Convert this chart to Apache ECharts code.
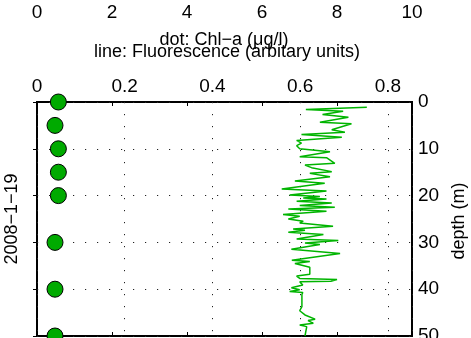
<!DOCTYPE html>
<html>
<head>
<meta charset="utf-8">
<script src="https://cdn.jsdelivr.net/npm/echarts@6/dist/echarts.min.js"></script>
<style>
html,body{margin:0;padding:0;background:#fff;}
#chart{width:471px;height:338px;}
</style>
</head>
<body>
<div id="chart"></div>
<script>
// ---- data ----
const chlDepth = [0, 5, 10, 15, 20, 30, 40, 50];
const chlValue = [0.57, 0.48, 0.57, 0.57, 0.57, 0.48, 0.48, 0.48];

const fluorDepth = [1.11,1.60,1.96,2.67,3.24,4.31,4.65,5.93,6.44,6.93,7.51,8.21,8.78,9.34,9.98,
  10.28,10.62,11.68,11.90,13.11,13.48,14.03,14.88,15.25,15.95,16.89,17.38,18.59,19.02,19.87,
  20.21,20.51,20.72,21.22,21.58,22.13,22.49,22.86,23.35,24.05,24.41,24.99,25.48,25.84,26.55,
  27.12,27.40,27.83,28.32,29.25,29.59,30.11,30.45,31.45,32.37,33.8,34.1,34.5,35.3,36.8,37.2,
  37.7,37.95,38.3,38.4,39.1,39.7,40.1,40.5,40.7,41.15,43.75,44.6,45.5,46.4,46.7,47.3,47.65,
  48.0,48.4,50.0];
const fluorValue = [0.752,0.613,0.698,0.651,0.710,0.645,0.717,0.672,0.702,0.603,0.695,0.592,0.603,0.592,0.599,
  0.595,0.668,0.599,0.660,0.679,0.611,0.626,0.672,0.622,0.668,0.588,0.656,0.558,0.660,0.576,
  0.645,0.607,0.660,0.592,0.672,0.599,0.679,0.573,0.660,0.561,0.599,0.573,0.607,0.599,0.675,
  0.584,0.611,0.573,0.653,0.592,0.687,0.611,0.645,0.580,0.691,0.581,0.622,0.588,0.622,0.622,0.592,
  0.599,0.684,0.670,0.599,0.606,0.580,0.599,0.576,0.606,0.604,0.604,0.599,0.611,0.634,0.618,0.630,0.599,
  0.615,0.611,0.611];

const chlTicks = [0, 2, 4, 6, 8, 10];
const fluorTicks = [0, 0.2, 0.4, 0.6, 0.8];
const depthTicks = [0, 10, 20, 30, 40, 50];

const titleChl = 'dot: Chl\u2212a (\u03bcg/l)';
const titleFluor = 'line: Fluorescence (arbitary units)';
const dateLabel = '2008\u22121\u221219';
const depthName = 'depth (m)';

// ---- chart ----
const FONT = '"Liberation Sans", Arial, Helvetica, sans-serif';
const dotted = { color: '#222', width: 1, type: [1.2, 10.8] };
const chart = echarts.init(document.getElementById('chart'), null, { renderer: 'canvas' });

const option = {
  animation: false,
  backgroundColor: '#fff',
  grid: { left: 37, right: 59, top: 102, bottom: 2, show: true, borderColor: '#000', borderWidth: 2,
    backgroundColor: 'transparent', containLabel: false, outerBoundsMode: 'none' },
  xAxis: [
    { // fluorescence, top
      type: 'value', position: 'top', min: 0, max: 0.855, interval: 0.2,
      axisLine: { show: false }, axisTick: { show: false },
      axisLabel: { show: true, margin: 6, fontSize: 19, color: '#000', fontFamily: FONT, showMaxLabel: false,
        formatter: v => fluorTicks.some(t => Math.abs(t - v) < 1e-6) ? String(+v.toFixed(1)) : '' },
      splitLine: { show: true, lineStyle: dotted }
    },
    { // Chl-a, offset labels on top
      type: 'value', position: 'top', offset: 74, min: 0, max: 10, interval: 2,
      axisLine: { show: false }, axisTick: { show: false },
      axisLabel: { show: true, margin: 6, fontSize: 19, color: '#000', fontFamily: FONT,
        formatter: v => chlTicks.includes(v) ? String(v) : '' },
      splitLine: { show: false }
    },
    { // Chl-a ticks at bottom of box
      type: 'value', position: 'bottom', min: 0, max: 10, interval: 2,
      axisLine: { show: false }, axisLabel: { show: false },
      axisTick: { show: true, inside: true, length: 4, lineStyle: { color: '#000', width: 1 } },
      splitLine: { show: false }
    },
    { // Chl-a ticks at top of box
      type: 'value', position: 'top', offset: 0, min: 0, max: 10, interval: 2,
      axisLine: { show: false }, axisLabel: { show: false },
      axisTick: { show: true, inside: true, length: 4, lineStyle: { color: '#000', width: 1 } },
      splitLine: { show: false }
    }
  ],
  yAxis: [
    {
      type: 'value', position: 'right', inverse: true, min: 0, max: 50, interval: 10,
      axisLine: { show: false },
      axisTick: { show: true, inside: true, length: 4, lineStyle: { color: '#000', width: 1 } },
      axisLabel: { show: true, margin: 6, fontSize: 19, color: '#000', fontFamily: FONT,
        formatter: v => depthTicks.includes(v) ? String(v) : '' },
      splitLine: { show: true, lineStyle: dotted }
    }
  ],
  graphic: [
    { type: 'text', x: 224, y: 40, style: { text: titleChl, fill: '#000', font: '18px ' + FONT, textAlign: 'center', textVerticalAlign: 'middle' } },
    { type: 'text', x: 227, y: 52, style: { text: titleFluor, fill: '#000', font: '18px ' + FONT, textAlign: 'center', textVerticalAlign: 'middle' } },
    { type: 'text', x: 12, y: 219, rotation: Math.PI / 2, style: { text: dateLabel, fill: '#000', font: '18px ' + FONT, textAlign: 'center', textVerticalAlign: 'middle' } },
    { type: 'text', x: 459, y: 221, rotation: Math.PI / 2, style: { text: depthName, fill: '#000', font: '18px ' + FONT, textAlign: 'center', textVerticalAlign: 'middle' } }
  ],
  series: [
    {
      type: 'line', xAxisIndex: 0, yAxisIndex: 0, symbol: 'none', clip: true,
      lineStyle: { color: '#00b400', width: 1.5 },
      data: fluorValue.map((v, i) => [v, fluorDepth[i]]),
      z: 3
    },
    {
      type: 'scatter', xAxisIndex: 1, yAxisIndex: 0, symbol: 'circle', symbolSize: 16, clip: false,
      itemStyle: { color: '#00aa00', borderColor: '#000', borderWidth: 1, opacity: 1 },
      data: chlValue.map((v, i) => [v, chlDepth[i]]),
      z: 5
    }
  ]
};
chart.setOption(option);
</script>
</body>
</html>
